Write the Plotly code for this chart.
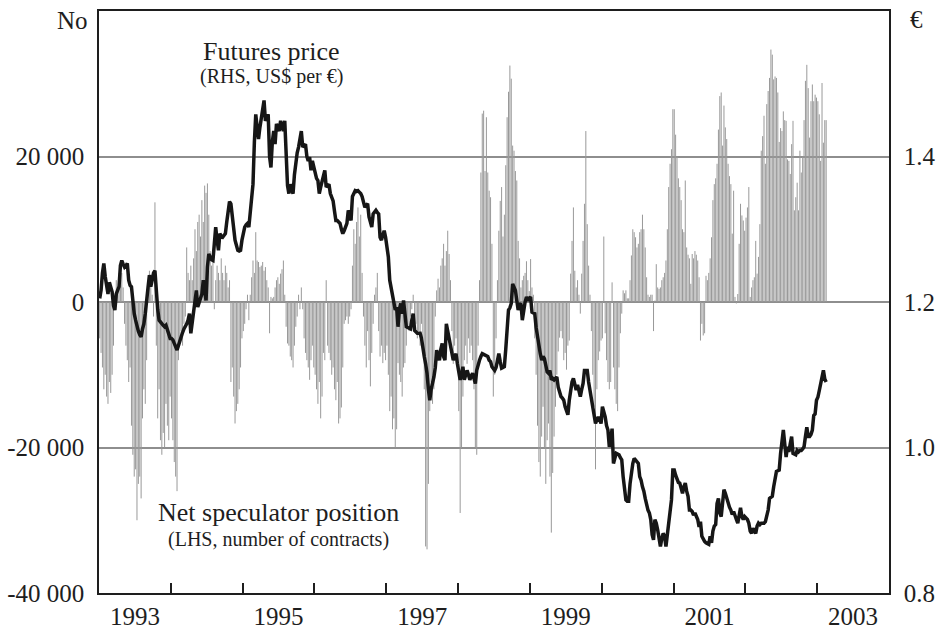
import plotly.graph_objects as go

# ---------------- data (weekly) ----------------
# Futures price, US$ per euro (RHS)
price_1993 = [1.205, 1.216, 1.240, 1.253, 1.235, 1.222, 1.211, 1.227, 1.220, 1.214,
              1.195, 1.189, 1.211, 1.218, 1.221, 1.250, 1.257, 1.252, 1.248, 1.250,
              1.253, 1.230, 1.223, 1.221, 1.200, 1.184, 1.175, 1.166, 1.160, 1.155,
              1.152, 1.163, 1.170, 1.184, 1.207, 1.220, 1.237, 1.221, 1.230, 1.240,
              1.243, 1.211, 1.190, 1.175, 1.172, 1.170, 1.168, 1.166, 1.168, 1.162,
              1.157, 1.150]
price_1994 = [1.150, 1.148, 1.143, 1.138, 1.134, 1.140, 1.147, 1.152, 1.158, 1.163,
              1.166, 1.170, 1.175, 1.184, 1.157, 1.172, 1.189, 1.200, 1.216, 1.193,
              1.198, 1.205, 1.211, 1.230, 1.215, 1.202, 1.248, 1.266, 1.262, 1.258,
              1.257, 1.280, 1.303, 1.285, 1.271, 1.294, 1.290, 1.289, 1.292, 1.294,
              1.310, 1.330, 1.338, 1.335, 1.318, 1.300, 1.285, 1.278, 1.271, 1.270,
              1.271, 1.285]
price_1995 = [1.295, 1.303, 1.306, 1.308, 1.303, 1.320, 1.339, 1.362, 1.420, 1.458,
              1.440, 1.424, 1.440, 1.454, 1.465, 1.477, 1.449, 1.455, 1.458, 1.400,
              1.385, 1.420, 1.435, 1.417, 1.445, 1.440, 1.435, 1.449, 1.440, 1.435,
              1.449, 1.408, 1.360, 1.349, 1.362, 1.355, 1.349, 1.375, 1.394, 1.405,
              1.413, 1.425, 1.435, 1.413, 1.415, 1.417, 1.400, 1.394, 1.399, 1.381,
              1.394, 1.385]
price_1996 = [1.378, 1.370, 1.367, 1.349, 1.358, 1.367, 1.375, 1.381, 1.358, 1.360,
              1.362, 1.349, 1.345, 1.339, 1.325, 1.312, 1.312, 1.310, 1.308, 1.300,
              1.294, 1.298, 1.303, 1.308, 1.326, 1.318, 1.312, 1.345, 1.350, 1.353,
              1.352, 1.353, 1.351, 1.349, 1.345, 1.339, 1.330, 1.333, 1.335, 1.317,
              1.310, 1.303, 1.321, 1.324, 1.326, 1.323, 1.321, 1.289, 1.285, 1.292,
              1.298, 1.289]
price_1997 = [1.275, 1.262, 1.230, 1.220, 1.211, 1.200, 1.189, 1.193, 1.166, 1.190,
              1.198, 1.184, 1.202, 1.184, 1.166, 1.165, 1.164, 1.163, 1.175, 1.184,
              1.161, 1.159, 1.157, 1.157, 1.157, 1.150, 1.134, 1.125, 1.115, 1.102,
              1.080, 1.065, 1.080, 1.088, 1.097, 1.110, 1.134, 1.125, 1.120, 1.135,
              1.143, 1.125, 1.120, 1.170, 1.160, 1.152, 1.140, 1.129, 1.120, 1.125,
              1.129, 1.115]
price_1998 = [1.102, 1.093, 1.100, 1.111, 1.093, 1.100, 1.106, 1.100, 1.093, 1.098,
              1.102, 1.095, 1.088, 1.106, 1.115, 1.120, 1.125, 1.129, 1.128, 1.127,
              1.126, 1.125, 1.120, 1.118, 1.111, 1.108, 1.106, 1.110, 1.120, 1.129,
              1.118, 1.109, 1.110, 1.111, 1.135, 1.157, 1.189, 1.192, 1.198, 1.225,
              1.220, 1.216, 1.202, 1.189, 1.196, 1.198, 1.175, 1.193, 1.200, 1.207,
              1.202, 1.205]
price_1999 = [1.207, 1.186, 1.185, 1.184, 1.165, 1.150, 1.135, 1.129, 1.120, 1.125,
              1.122, 1.111, 1.104, 1.102, 1.106, 1.093, 1.095, 1.093, 1.095, 1.097,
              1.083, 1.075, 1.070, 1.068, 1.065, 1.056, 1.050, 1.045, 1.065, 1.083,
              1.090, 1.095, 1.085, 1.079, 1.086, 1.080, 1.070, 1.080, 1.088, 1.106,
              1.106, 1.106, 1.090, 1.079, 1.065, 1.061, 1.049, 1.033, 1.038, 1.042,
              1.038, 1.033]
price_2000 = [1.056, 1.050, 1.042, 1.030, 1.024, 1.001, 1.010, 1.026, 0.978, 0.985,
              0.992, 0.991, 0.990, 0.986, 0.983, 0.960, 0.942, 0.928, 0.926, 0.926,
              0.950, 0.969, 0.978, 0.985, 0.982, 0.980, 0.978, 0.960, 0.955, 0.946,
              0.940, 0.930, 0.919, 0.914, 0.910, 0.901, 0.880, 0.873, 0.901, 0.896,
              0.887, 0.873, 0.864, 0.875, 0.882, 0.878, 0.864, 0.880, 0.896, 0.903,
              0.928, 0.969]
price_2001 = [0.969, 0.962, 0.955, 0.952, 0.951, 0.942, 0.937, 0.946, 0.951, 0.940,
              0.933, 0.914, 0.914, 0.912, 0.907, 0.910, 0.905, 0.901, 0.891, 0.898,
              0.878, 0.874, 0.871, 0.869, 0.868, 0.867, 0.878, 0.869, 0.885, 0.892,
              0.894, 0.923, 0.930, 0.910, 0.905, 0.925, 0.942, 0.937, 0.930, 0.923,
              0.918, 0.914, 0.908, 0.912, 0.905, 0.901, 0.896, 0.905, 0.917, 0.905,
              0.901, 0.905]
price_2002 = [0.903, 0.901, 0.896, 0.885, 0.882, 0.889, 0.885, 0.882, 0.892, 0.896,
              0.894, 0.896, 0.896, 0.896, 0.898, 0.905, 0.914, 0.930, 0.932, 0.933,
              0.946, 0.960, 0.967, 0.968, 0.969, 0.992, 1.010, 1.024, 1.005, 0.987,
              1.001, 0.994, 1.005, 1.015, 0.992, 0.991, 0.990, 0.996, 0.994, 0.996,
              0.996, 0.998, 1.001, 1.015, 1.028, 1.015, 1.015, 1.018, 1.024, 1.044,
              1.046, 1.065]
price_2003 = [1.069, 1.078, 1.087, 1.101, 1.106, 1.094, 1.090]

# Net speculator position, thousands of contracts (LHS)
net_1993 = [-5, -7, -9, -12, -10, -13, -14, -11, -12.5, -10,
            -6, 1, 3, 2, 4, 3, 4, 2, -3, -6,
            -8, -11, -9, -17, -21, -24, -23, -30, -25, -24,
            -27, -16, -12, -14, -8, 2, 4.3, 3, 1, -2,
            13.7, -6, -16, -12, -19, -21, -18, -20, -14, -17,
            -19, -13]
net_1994 = [-16, -19, -22, -24, -26, -8, -5, -4, -6, -3,
            -2, 7.5, 4, 3, 5, 3, 6, 10, 7, 11,
            12, 9, 14, 11, 16, 15, 16.3, 12, 7, 5,
            6, -1, 3, 5, 4, 3, 6, 4, 3, 5,
            4, 2, 3, -11, -9, -13, -16.7, -15, -14, -12,
            -9, -5]
net_1995 = [-4, -3, -1, 1, -2.5, 1, 3.4, 5.7, 4, 9.6,
            5.7, 5.5, 4.8, 5, 5.5, 4.3, 4.8, 3, 2, -4.3,
            0.7, 0.5, 0.7, 2, 3, 3.4, 2.5, 3.9, 4.5, 5.7,
            1, -3.4, -5.7, -6, -7.5, -8, -9, -6, -3.4, -2,
            1, -1, 2, -1, -5, -7, -8, -9, -10.7, -8,
            -6, -9]
net_1996 = [-10, -12, -14, -11, -16, -13, -7, -8, 3, -6,
            -7, -8, -10, -9, -12, -13.5, -11, -16.7, -16, -14.5,
            -9, -3, -2.5, -2, -3, -2, -1, 5, 10, 8,
            11, 13, 9, 12, 4, -2, -6, -9, -4, -8,
            -11.6, -7, -3, 1, 2, 4, -4, -7.5, -6, -8.4,
            -7, -8]
net_1997 = [-6, -10, -15, -13, -17.5, -16, -20, -17.5, -8.4, -10,
            -11, -13, -9, -8.4, -6, -3.5, -4, -2, -1, 1,
            -2, -3, -5, -4, -6, -3, -5, -12, -33.6, -34,
            -25, -15, -11, -14, -12, -2, 1.6, 3.2, 2, 5,
            6, 8, 5, 7, 9.8, 6.6, 3, -4, -8.5, -6,
            -5, -8]
net_1998 = [-15, -29, -20, -13, -8, -6, -8.5, -5, -7, -6,
            -8, -12, -20, -21, -6, 3, 17.8, 25.9, 26.3, 18,
            25.4, 17.8, 15.3, 14.4, 8, -13, -10, -5, 3, 9.8,
            13.9, 15.8, 9, 12, 18.8, 25.4, 28.9, 32.5, 30.7, 21.5,
            20.8, 18, 16.7, 8.4, 6, 2, 3, 3.6, 4, 5.6,
            3, 1.5]
net_1999 = [5.9, 2, 1, -5, -10, -17, -22, -24, -18.5, -14.4,
            -20, -25, -19, -16.7, -24, -31.7, -23.5, -18.5, -14.4, -10,
            -6.8, -4.9, -4, -5, -8, -7, -9.3, -6, -5.3, 3.9,
            8.4, 13, 4.3, 2, 3, 1, -1.6, 3.9, 8.4, 13.5,
            23.5, 10.7, 5, 1, -4, -10, -14.4, -23, -12, -8,
            -6.8, -5.3]
net_2000 = [-5, 9, -4.3, -8, -11, -12, -11, 2.7, -9, -12,
            -14, -15, -9, -4.3, -1.6, 1.6, 1.2, 1.6, 0.5, 0.5,
            3, 6.4, 10, 9.6, 8.9, 7.5, 8, 9.6, 10, 12,
            10, 7.5, 3.4, 1, 0.7, 1, 1, -4, 0.2, 5.2,
            2, 1.8, 2, 3, 3.4, 4, 5.7, 10, 15.8, 19,
            21, 26.5]
net_2001 = [26.5, 23, 20, 17, 15.8, 14, 10, 9.6, 16.7, 7.5,
            6.5, 6, 2.5, 6.6, 6, 7, 6.5, 5.7, 3.4, -5.3,
            -3, -4.6, -4.3, 3.6, 3, 4, 6, 8.9, 14, 16.2,
            17, 19, 23.7, 28.3, 28.8, 21.5, 27, 24, 22.4, 19,
            17.3, 16.2, 9.4, 15.3, 0.7, -0.2, 1.1, 8, 13.5, 11.9,
            11.2, 9.8]
net_2002 = [11.6, 13, 15.8, 0.7, 2, 3, 3.4, 8.4, 3.9, 6.2,
            10.7, 20.8, 22.8, 25.6, 19, 27.2, 29, 30.8, 34.7, 34,
            30.6, 31, 30.8, 28.8, 22, 23.9, 23.5, 26.2, 25, 24.9,
            19.6, 19.4, 17.6, 21.7, 24.9, 12.6, 14.4, 16.4, 12.6, 20.8,
            17.8, 20, 25, 30.4, 32.6, 29.4, 22.6, 27.6, 29.9, 27.6,
            28.5, 28.1]
net_2003 = [27.6, 25.8, 19.4, 30.1, 21.9, 25, 25]

years = [1993, 1994, 1995, 1996, 1997, 1998, 1999, 2000, 2001, 2002, 2003]
price_by_year = [price_1993, price_1994, price_1995, price_1996, price_1997, price_1998,
                 price_1999, price_2000, price_2001, price_2002, price_2003]
net_by_year = [net_1993, net_1994, net_1995, net_1996, net_1997, net_1998,
               net_1999, net_2000, net_2001, net_2002, net_2003]

label_years = ["1993", "1995", "1997", "1999", "2001", "2003"]
left_ticks = [-40000, -20000, 0, 20000]
left_labels = ["-40 000", "-20 000", "0", "20 000"]
right_ticks = [0.8, 1.0, 1.2, 1.4]
right_labels = ["0.8", "1.0", "1.2", "1.4"]

# ---------------- build weekly series ----------------
x_price, y_price = [], []
x_net, y_net = [], []          # thin weekly bars drawn as vertical strokes
for yr, pl, nl in zip(years, price_by_year, net_by_year):
    for i, v in enumerate(pl):
        x_price.append(yr + (i + 0.5) / 52)
        y_price.append(v)
    for i, v in enumerate(nl):
        xv = yr + (i + 0.5) / 52
        x_net += [xv, xv, None]
        y_net += [0, v * 1000, None]

FONT = "Liberation Serif"
INK = "#1e1e1e"

fig = go.Figure()
fig.add_trace(go.Scatter(x=x_net, y=y_net, mode="lines",
                         line=dict(color="#999999", width=1),
                         yaxis="y", name="Net speculator position",
                         connectgaps=False))
fig.add_trace(go.Scatter(x=x_price, y=y_price, mode="lines",
                         line=dict(color="#161616", width=3.5),
                         yaxis="y2", name="Futures price"))

fig.update_layout(
    template="none",
    width=940, height=630,
    margin=dict(l=99, r=51, t=11, b=37, autoexpand=False),
    paper_bgcolor="white", plot_bgcolor="white",
    showlegend=False,
    font=dict(family=FONT, color=INK, size=25),
    xaxis=dict(
        range=[1993, 2004], automargin=False,
        tickmode="array",
        tickvals=[int(s) + 0.5 for s in label_years],
        ticktext=label_years,
        ticks="", showgrid=False, zeroline=False,
        showline=True, linecolor=INK, linewidth=1.5, mirror=True,
        tickfont=dict(family=FONT, size=25, color=INK),
        ticklabelstandoff=0,
        minor=dict(tickmode="array", tickvals=years[1:], ticks="inside",
                   ticklen=10, tickwidth=1.5, tickcolor=INK, showgrid=False),
    ),
    yaxis=dict(
        range=[-40000, 40000], automargin=False,
        tickmode="array", tickvals=left_ticks, ticktext=left_labels,
        ticks="", showgrid=True, gridcolor="#8e8e8e", gridwidth=1.5,
        zeroline=False, showline=True, linecolor=INK, linewidth=1.5,
        tickfont=dict(family=FONT, size=25, color=INK),
        ticklabelstandoff=8,
    ),
    yaxis2=dict(
        range=[0.8, 1.6], overlaying="y", side="right", automargin=False,
        tickmode="array", tickvals=right_ticks, ticktext=right_labels,
        ticks="", showgrid=False, zeroline=False,
        showline=True, linecolor=INK, linewidth=1.5,
        tickfont=dict(family=FONT, size=25, color=INK),
        ticklabelstandoff=8,
    ),
)

def px_to_paper(px, py):
    return (px - 99) / 790, (592.7 - py) / 582

annots = [
    ("No", 72, 20, 25),
    ("€", 916, 19, 25),
    ("Futures price", 271, 51, 26),
    ("(RHS, US$ per €)", 271, 76, 20),
    ("Net speculator position", 278, 512, 26),
    ("(LHS, number of contracts)", 278, 539, 20),
]
for text, px, py, size in annots:
    ax, ay = px_to_paper(px, py)
    fig.add_annotation(text=text, x=ax, y=ay, xref="paper", yref="paper",
                       xanchor="center", yanchor="middle", showarrow=False,
                       font=dict(family=FONT, size=size, color=INK))

fig.write_html("out.html",
               config={"displayModeBar": False},
               post_script="document.body.style.margin='0px';document.body.style.padding='0px';")
